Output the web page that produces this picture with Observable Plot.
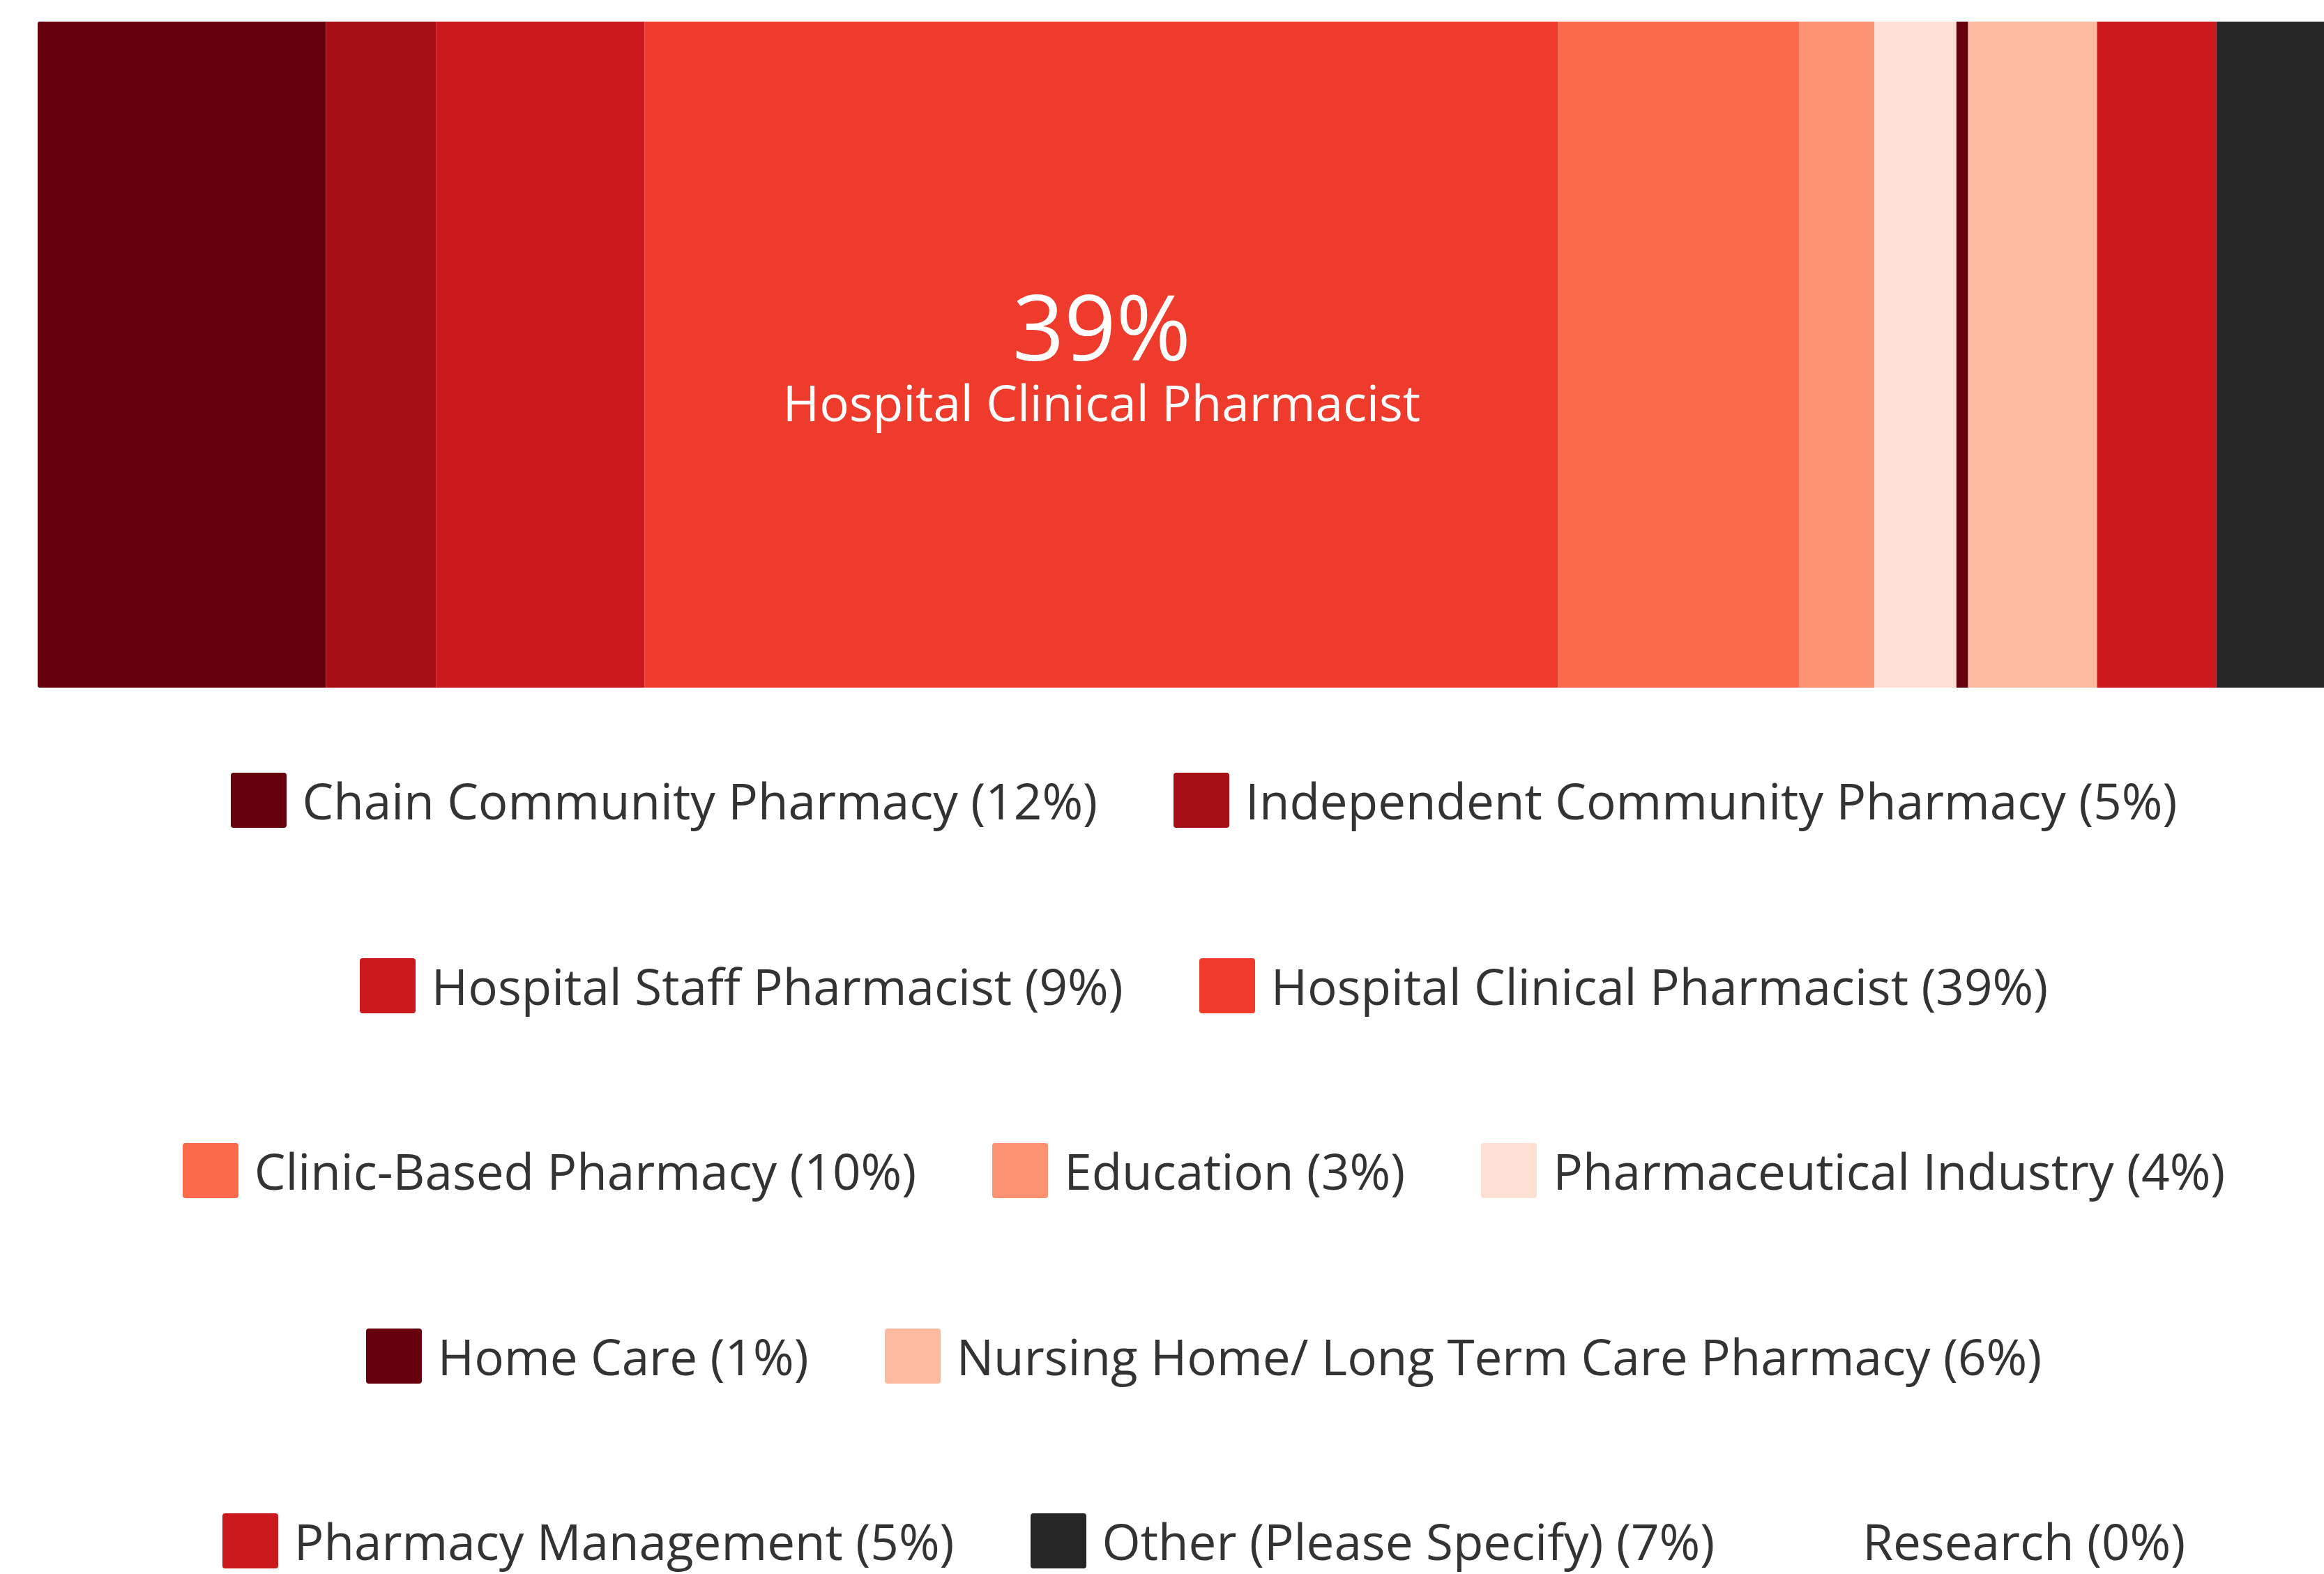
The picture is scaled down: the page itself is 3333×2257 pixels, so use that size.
<!DOCTYPE html>
<html><head><meta charset="utf-8">
<script src="https://cdn.jsdelivr.net/npm/d3@7"></script>
<script src="https://cdn.jsdelivr.net/npm/@observablehq/plot@0.6"></script>
<style>
html,body{margin:0;padding:0;background:#fff;overflow:hidden;}
#wrap{width:3468px;font-family:"Open Sans",sans-serif;}
#chart svg{display:block;overflow:hidden;}
#legend{display:flex;flex-wrap:wrap;justify-content:center;width:3468px;}
.item{display:flex;align-items:center;height:265.5px;margin:0 62px 0 47px;}
.sw{width:80px;height:79px;border-radius:4px;margin-right:23px;flex:none;}
.lab{font-size:71px;color:#333;white-space:nowrap;line-height:1;}
</style></head>
<body><div id="wrap"><div id="chart"></div><div id="legend"></div></div>
<script>
const categories = [
  "Chain Community Pharmacy",
  "Independent Community Pharmacy",
  "Hospital Staff Pharmacist",
  "Hospital Clinical Pharmacist",
  "Clinic-Based Pharmacy",
  "Education",
  "Pharmaceutical Industry",
  "Home Care",
  "Nursing Home/ Long Term Care Pharmacy",
  "Pharmacy Management",
  "Other (Please Specify)",
  "Research"
];
// segment shares (%)
const shares = [12.3, 4.7, 8.9, 39.0, 10.3, 3.2, 3.5, 0.5, 5.5, 5.1, 7.0, 0];
// rounded percentages shown in the legend
const legendPercents = [12, 5, 9, 39, 10, 3, 4, 1, 6, 5, 7, 0];
const colors = ["#67000d", "#a50f15", "#cb181d", "#ef3b2c", "#fb6a4a", "#fc9272",
                "#fee0d2", "#67000d", "#fcbba1", "#cb181d", "#262626", "#ffffff"];

const data = categories.map((c, i) => ({category: c, share: shares[i], pct: legendPercents[i]}));
const total = d3.sum(shares);

const W = 3468, H = 1015, mTop = 31, mBottom = 29, mLeft = 54, mRight = 54;

const plot = Plot.plot({
  width: W,
  height: H,
  marginTop: mTop,
  marginBottom: mBottom,
  marginLeft: mLeft,
  marginRight: mRight,
  style: {fontFamily: "Open Sans", background: "white"},
  x: {domain: [0, total], axis: null},
  color: {type: "ordinal", domain: categories, range: colors},
  marks: [
    Plot.barX(data, Plot.stackX({x: "share", fill: "category", order: null})),
    Plot.text(data, Plot.stackX({x: "share", order: null,
      text: d => d.share >= 20 ? d.pct + "%" : null,
      fill: "white", fontSize: 130, lineAnchor: "bottom", dy: 8, fontFamily: "Open Sans"})),
    Plot.text(data, Plot.stackX({x: "share", order: null,
      text: d => d.share >= 20 ? d.category : null,
      fill: "white", fontSize: 71, lineAnchor: "bottom", dy: 94.5, fontFamily: "Open Sans"}))
  ]
});
document.getElementById("chart").appendChild(plot);

// round the outer corners of the bar
const xs = plot.scale("x");
const svg = d3.select(plot);
const defs = svg.insert("defs", ":first-child");
defs.append("clipPath").attr("id", "barclip").append("rect")
  .attr("x", xs.range[0]).attr("y", mTop)
  .attr("width", xs.range[1] - xs.range[0]).attr("height", H - mTop - mBottom)
  .attr("rx", 3).attr("ry", 3);
svg.select("g[aria-label='bar']").attr("clip-path", "url(#barclip)");

// legend
const legend = d3.select("#legend");
const items = legend.selectAll(".item").data(data).join("div").attr("class", "item");
items.append("div").attr("class", "sw").style("background", (d, i) => colors[i]);
items.append("span").attr("class", "lab").text(d => `${d.category} (${d.pct}%)`);
</script>
</body></html>
